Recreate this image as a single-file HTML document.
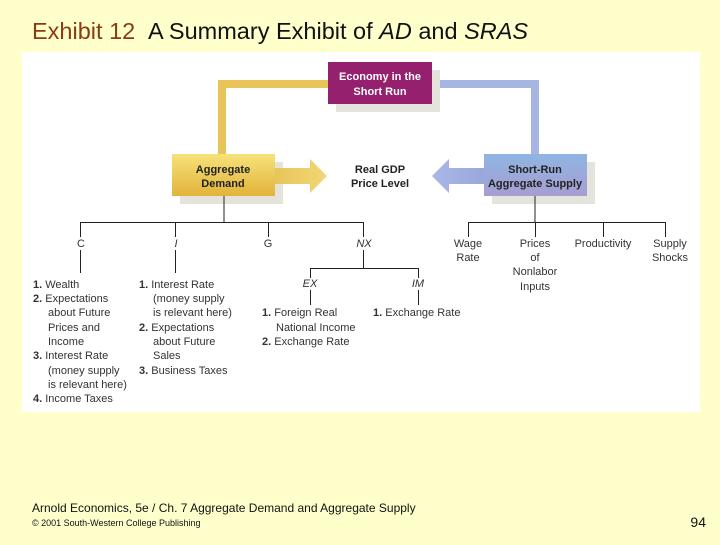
<!DOCTYPE html>
<html><head><meta charset="utf-8"><style>
html,body{margin:0;padding:0;}
body{width:720px;height:540px;background:#FFFFCC;position:relative;overflow:hidden;font-family:"Liberation Sans",sans-serif;}
svg text{font-family:"Liberation Sans",sans-serif;}
</style></head><body>
<svg width="720" height="540" xmlns="http://www.w3.org/2000/svg">
<defs>
<linearGradient id="gy" x1="0" y1="0" x2="0" y2="1"><stop offset="0" stop-color="#f6e27a"/><stop offset="1" stop-color="#e2b33a"/></linearGradient>
<linearGradient id="gb" x1="0" y1="0" x2="0" y2="1"><stop offset="0" stop-color="#8fb5e2"/><stop offset="1" stop-color="#a79ed2"/></linearGradient>
<linearGradient id="ay" x1="0" y1="0" x2="1" y2="0"><stop offset="0" stop-color="#e8c558"/><stop offset="1" stop-color="#f1d777"/></linearGradient>
<linearGradient id="ab" x1="1" y1="0" x2="0" y2="0"><stop offset="0" stop-color="#9aa7dc"/><stop offset="1" stop-color="#a8b8e6"/></linearGradient>
</defs>
<text x="32" y="39" font-size="23.5" fill="#8b3a12">Exhibit 12</text>
<text x="148" y="39" font-size="23.5" fill="#111">A Summary Exhibit of <tspan font-style="italic">AD</tspan> and <tspan font-style="italic">SRAS</tspan></text>
<rect x="22" y="52" width="678" height="360" fill="#fff"/>
<path d="M330 84 H222 V156" fill="none" stroke="#e8c45a" stroke-width="8"/>
<path d="M430 84 H535 V156" fill="none" stroke="#a6b6e2" stroke-width="8"/>
<rect x="336" y="70" width="104" height="42" fill="#e4e4dc"/>
<rect x="180" y="162" width="103" height="42" fill="#e4e4dc"/>
<rect x="492" y="162" width="103" height="42" fill="#e4e4dc"/>
<rect x="328" y="62" width="104" height="42" fill="#94206e"/>
<text x="380" y="80" font-size="11" font-weight="bold" fill="#fff" text-anchor="middle">Economy in the</text>
<text x="380" y="95" font-size="11" font-weight="bold" fill="#fff" text-anchor="middle">Short Run</text>
<rect x="172" y="154" width="103" height="42" fill="url(#gy)"/>
<text x="223" y="173" font-size="11" font-weight="bold" fill="#222" text-anchor="middle">Aggregate</text>
<text x="223" y="187" font-size="11" font-weight="bold" fill="#222" text-anchor="middle">Demand</text>
<rect x="484" y="154" width="103" height="42" fill="url(#gb)"/>
<text x="535" y="173" font-size="11" font-weight="bold" fill="#222" text-anchor="middle">Short-Run</text>
<text x="535" y="187" font-size="11" font-weight="bold" fill="#222" text-anchor="middle">Aggregate Supply</text>
<path d="M275 168 H310 V159 L327 176 L310 193 V184 H275 Z" fill="url(#ay)"/>
<path d="M484 168 H449 V159 L432 176 L449 193 V184 H484 Z" fill="url(#ab)"/>
<text x="380" y="173" font-size="11" font-weight="bold" fill="#222" text-anchor="middle">Real GDP</text>
<text x="380" y="187" font-size="11" font-weight="bold" fill="#222" text-anchor="middle">Price Level</text>
<g stroke="#222" stroke-width="1" fill="none">
<path d="M224 196 V222 M80.5 237 V222.5 H363.5 V237 M175.5 222 V237 M268.5 222 V237"/>
<path d="M80.5 250 V273 M175.5 250 V273 M363.5 250 V268.5 M310.5 278 V268.5 H418.5 V278 M310.5 290 V305 M418.5 290 V305"/>
<path d="M535 196 V222 M468.5 237 V222.5 H665.5 V237 M535.5 222 V237 M603.5 222 V237"/>
</g>
<g font-size="11" fill="#333">
<text x="81" y="247" text-anchor="middle">C</text>
<text x="176" y="247" text-anchor="middle" font-style="italic">I</text>
<text x="268" y="247" text-anchor="middle">G</text>
<text x="364" y="247" text-anchor="middle" font-style="italic">NX</text>
<text x="310" y="287" text-anchor="middle" font-style="italic">EX</text>
<text x="418" y="287" text-anchor="middle" font-style="italic">IM</text>
<text x="468" y="247" text-anchor="middle">Wage</text>
<text x="468" y="261" text-anchor="middle">Rate</text>
<text x="535" y="247" text-anchor="middle">Prices</text>
<text x="535" y="261" text-anchor="middle">of</text>
<text x="535" y="275" text-anchor="middle">Nonlabor</text>
<text x="535" y="290" text-anchor="middle">Inputs</text>
<text x="603" y="247" text-anchor="middle">Productivity</text>
<text x="670" y="247" text-anchor="middle">Supply</text>
<text x="670" y="261" text-anchor="middle">Shocks</text>
<text x="33" y="288"><tspan font-weight="bold">1.</tspan> Wealth</text>
<text x="33" y="302"><tspan font-weight="bold">2.</tspan> Expectations</text>
<text x="48" y="316">about Future</text>
<text x="48" y="331">Prices and</text>
<text x="48" y="345">Income</text>
<text x="33" y="359"><tspan font-weight="bold">3.</tspan> Interest Rate</text>
<text x="48" y="374">(money supply</text>
<text x="48" y="388">is relevant here)</text>
<text x="33" y="402"><tspan font-weight="bold">4.</tspan> Income Taxes</text>
<text x="139" y="288"><tspan font-weight="bold">1.</tspan> Interest Rate</text>
<text x="153" y="302">(money supply</text>
<text x="153" y="316">is relevant here)</text>
<text x="139" y="331"><tspan font-weight="bold">2.</tspan> Expectations</text>
<text x="153" y="345">about Future</text>
<text x="153" y="359">Sales</text>
<text x="139" y="374"><tspan font-weight="bold">3.</tspan> Business Taxes</text>
<text x="262" y="316"><tspan font-weight="bold">1.</tspan> Foreign Real</text>
<text x="276" y="331">National Income</text>
<text x="262" y="345"><tspan font-weight="bold">2.</tspan> Exchange Rate</text>
<text x="373" y="316"><tspan font-weight="bold">1.</tspan> Exchange Rate</text>
</g>
<text x="32" y="512" font-size="12" fill="#111">Arnold Economics, 5e / Ch. 7  Aggregate Demand and Aggregate Supply</text>
<text x="32" y="526" font-size="9" fill="#111">© 2001 South-Western College Publishing</text>
<text x="706" y="527" font-size="14" fill="#111" text-anchor="end">94</text>
</svg>
</body></html>
